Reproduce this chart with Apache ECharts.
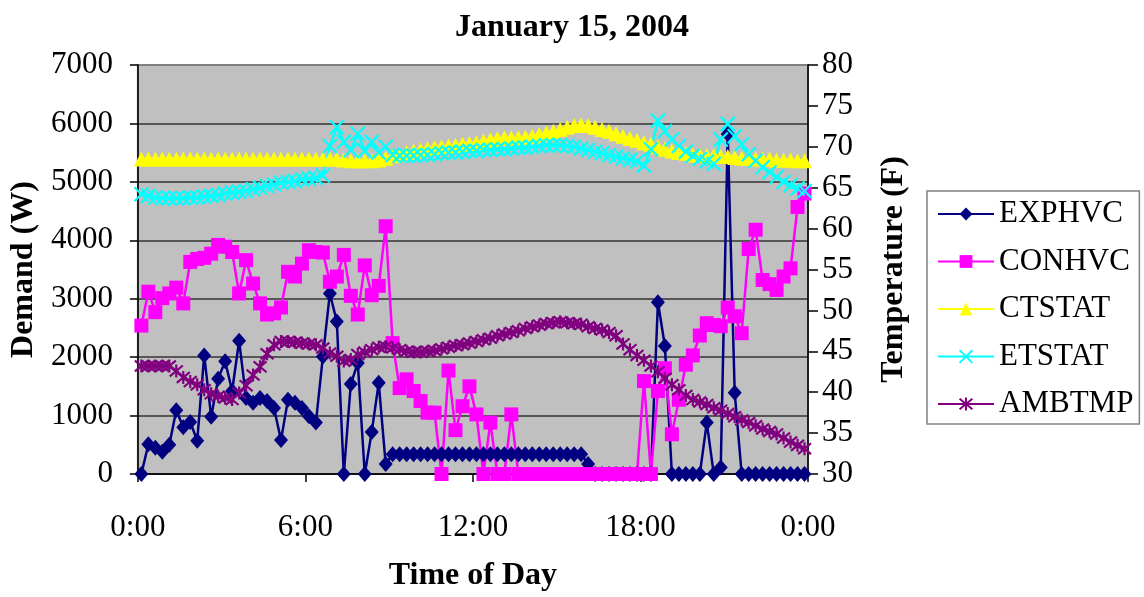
<!DOCTYPE html>
<html>
<head>
<meta charset="utf-8">
<title>January 15, 2004</title>
<script src="https://cdn.jsdelivr.net/npm/echarts@6/dist/echarts.min.js"></script>
<style>
    html, body { margin: 0; padding: 0; background: #fff; }
    #chart_show { width: 1144px; height: 597px; }
</style>
</head>
<body>
<div id="chart_show"></div>
<script>
// 15 minute readings, one category per reading
var timeLabels = [];
for (var h = 0; h < 24; h++) {
    for (var m = 0; m < 60; m += 15) {
        timeLabels.push(h + ':' + (m < 10 ? '0' + m : m));
    }
}

var hourTicks = [0, 6, 12, 18, 24];
var hourLabels = ['0:00', '6:00', '12:00', '18:00', '0:00'];

var seriesNames = ['EXPHVC', 'CONHVC', 'CTSTAT', 'ETSTAT', 'AMBTMP'];

// Demand (W)
var exphvc = [0, 510, 450, 380, 500, 1090, 800, 890, 570, 2030,
    980, 1630, 1930, 1420, 2280, 1300, 1220, 1300, 1250, 1130,
    580, 1270, 1220, 1130, 990, 880, 2010, 3090, 2610, 0,
    1540, 1900, 0, 720, 1560, 170, 340, 340, 340, 340,
    340, 340, 340, 340, 340, 340, 340, 340, 340, 340,
    340, 340, 340, 340, 340, 340, 340, 340, 340, 340,
    340, 340, 340, 340, 170, 0, 0, 0, 0, 0,
    0, 0, 0, 0, 2940, 2190, 0, 0, 0, 0,
    0, 880, 0, 110, 5820, 1390, 0, 0, 0, 0,
    0, 0, 0, 0, 0, 0];

var conhvc = [2540, 3120, 2770, 3010, 3090, 3190, 2920, 3630, 3680, 3700,
    3770, 3920, 3890, 3800, 3090, 3660, 3260, 2920, 2730, 2750,
    2850, 3460, 3380, 3600, 3830, 3800, 3790, 3290, 3380, 3750,
    3050, 2730, 3570, 3060, 3220, 4240, 2240, 1470, 1620, 1420,
    1250, 1050, 1050, 0, 1770, 750, 1160, 1500, 1020, 0,
    880, 0, 0, 1020, 0, 0, 0, 0, 0, 0,
    0, 0, 0, 0, 0, 0, 0, 0, 0, 0,
    0, 0, 1590, 0, 1420, 1810, 680, 1270, 1870, 2030,
    2370, 2580, 2550, 2530, 2850, 2700, 2410, 3850, 4180, 3320,
    3250, 3150, 3380, 3520, 4570, 4800];

// Temperature (F)
var ctstat = [68.5, 68.5, 68.5, 68.5, 68.5, 68.5, 68.5, 68.5, 68.5, 68.5,
    68.5, 68.5, 68.5, 68.5, 68.5, 68.5, 68.5, 68.5, 68.5, 68.5,
    68.5, 68.5, 68.5, 68.5, 68.5, 68.5, 68.5, 68.5, 68.5, 68.4,
    68.3, 68.3, 68.3, 68.3, 68.4, 68.6, 68.9, 69.1, 69.3, 69.5,
    69.6, 69.8, 69.9, 70.0, 70.1, 70.2, 70.3, 70.4, 70.5, 70.7,
    70.9, 71.0, 71.1, 71.1, 71.1, 71.2, 71.3, 71.5, 71.7, 71.9,
    72.1, 72.4, 72.6, 72.7, 72.6, 72.4, 72.1, 71.9, 71.6, 71.3,
    71.0, 70.8, 70.5, 70.3, 70.0, 69.7, 69.5, 69.3, 69.2, 69.0,
    69.0, 68.9, 68.9, 68.8, 68.8, 68.7, 68.6, 68.6, 68.5, 68.5,
    68.5, 68.4, 68.4, 68.4, 68.3, 68.3];

var etstat = [64.2, 64.0, 63.8, 63.7, 63.7, 63.7, 63.7, 63.8, 63.8, 63.9,
    64.0, 64.1, 64.3, 64.4, 64.5, 64.6, 64.8, 65.0, 65.2, 65.4,
    65.6, 65.7, 65.8, 66.0, 66.1, 66.2, 66.5, 70.1, 72.4, 70.6,
    69.6, 71.6, 69.5, 70.6, 69.3, 70.0, 69.0, 68.9, 68.9, 68.9,
    69.0, 69.0, 69.1, 69.2, 69.3, 69.3, 69.4, 69.5, 69.5, 69.6,
    69.6, 69.7, 69.7, 69.8, 69.9, 69.9, 70.0, 70.1, 70.2, 70.2,
    70.2, 70.1, 70.0, 69.8, 69.6, 69.4, 69.2, 69.0, 68.8, 68.6,
    68.4, 68.2, 67.7, 69.7, 73.2, 71.9, 70.9, 70.1, 69.4, 68.9,
    68.5, 68.2, 67.9, 70.9, 72.8, 71.3, 70.3, 69.1, 68.3, 67.5,
    66.9, 66.3, 65.7, 65.3, 64.9, 64.6];

var ambtmp = [43.2, 43.2, 43.2, 43.2, 43.2, 42.6, 41.8, 41.3, 40.9, 40.3,
    39.8, 39.5, 39.3, 39.1, 39.9, 40.8, 42.1, 43.1, 44.7, 45.8,
    46.2, 46.2, 46.1, 46.0, 45.9, 45.8, 45.4, 44.8, 44.4, 43.8,
    44.0, 44.6, 44.9, 45.2, 45.5, 45.6, 45.4, 45.2, 45.0, 44.9,
    44.9, 45.0, 45.1, 45.3, 45.5, 45.7, 45.8, 46.0, 46.2, 46.4,
    46.6, 46.9, 47.1, 47.3, 47.5, 47.8, 48.0, 48.2, 48.4, 48.5,
    48.6, 48.5, 48.4, 48.3, 48.0, 47.8, 47.6, 47.3, 46.9, 45.9,
    45.2, 44.5, 43.9, 43.2, 42.5, 41.7, 40.9, 40.3, 39.6, 39.1,
    38.8, 38.5, 38.1, 37.8, 37.4, 37.0, 36.6, 36.3, 35.9, 35.5,
    35.2, 34.9, 34.4, 33.9, 33.5, 33.1];

(function () {
    var FONT = "'Liberation Serif', 'Times New Roman', serif";

    var Demand_Chart = {
        opts: {
            id: 'chart_show',
            cross: 'path://M0,0L10,10M10,0L0,10',
            star: 'path://M0,0L10,10M10,0L0,10M5,-1L5,11'
        },
        init: function () {
            var myChart = echarts.init(document.getElementById(this.opts.id), null, { renderer: 'canvas' });
            myChart.setOption(this.formatChart());
        },
        lineSeries: function (name, data, yIndex, color, symbol, size, stroke) {
            var item = {
                name: name,
                type: 'line',
                xAxisIndex: 0,
                yAxisIndex: yIndex,
                data: data,
                symbol: symbol,
                symbolSize: size,
                showAllSymbol: true,
                lineStyle: { color: color, width: 2.5 },
                itemStyle: { color: color },
                emphasis: { disabled: true },
                animation: false
            };
            if (stroke) {
                item.itemStyle = { color: 'none', borderColor: color, borderWidth: 2.2 };
            }
            return item;
        },
        formatChart: function () {
            var content = this;
            var nameText = { fontFamily: FONT, fontSize: 32, fontWeight: 'bold', color: '#000' };
            var black = { color: '#000', width: 1.5 };
            var plain = function (v) { return String(v); };

            return {
                backgroundColor: '#fff',
                animation: false,
                title: {
                    text: 'January 15, 2004',
                    left: 'center',
                    top: 7,
                    textStyle: { fontFamily: FONT, fontSize: 32, fontWeight: 'bold', color: '#000' }
                },
                legend: {
                    orient: 'vertical',
                    left: 927,
                    top: 191,
                    padding: [7.5, 6, 4.5, 10],
                    itemGap: 16.5,
                    itemWidth: 56,
                    itemHeight: 16,
                    backgroundColor: '#fff',
                    borderColor: '#808080',
                    borderWidth: 1.5,
                    borderRadius: 0,
                    data: seriesNames,
                    textStyle: { fontFamily: FONT, fontSize: 31, lineHeight: 31, color: '#000' }
                },
                grid: {
                    left: 137,
                    right: 336,
                    top: 65,
                    bottom: 120.5,
                    show: true,
                    backgroundColor: '#c0c0c0',
                    borderColor: '#808080',
                    borderWidth: 2
                },
                xAxis: [
                    {
                        type: 'category',
                        data: timeLabels,
                        boundaryGap: true,
                        show: false
                    },
                    {
                        type: 'value',
                        position: 'bottom',
                        min: hourTicks[0],
                        max: hourTicks[hourTicks.length - 1],
                        interval: 6,
                        axisLine: { show: true, lineStyle: black },
                        axisTick: { show: true, length: 8, lineStyle: black },
                        splitLine: { show: false },
                        axisLabel: {
                            margin: 38,
                            showMinLabel: true,
                            showMaxLabel: true,
                            fontFamily: FONT, fontSize: 31, color: '#000',
                            formatter: function (v) {
                                return hourLabels[hourTicks.indexOf(v)];
                            }
                        },
                        name: 'Time of Day',
                        nameLocation: 'middle',
                        nameGap: 86,
                        nameTextStyle: nameText
                    }
                ],
                yAxis: [
                    {
                        type: 'value',
                        min: 0,
                        max: 7000,
                        interval: 1000,
                        axisLine: { show: true, lineStyle: black },
                        axisTick: { show: true, length: 8, lineStyle: black },
                        axisLabel: { margin: 25, fontFamily: FONT, fontSize: 31, color: '#000', formatter: plain },
                        splitLine: { show: true, showMaxLine: false, lineStyle: { color: '#333', width: 1.5 } },
                        name: 'Demand (W)',
                        nameLocation: 'middle',
                        nameRotate: 90,
                        nameGap: 96,
                        nameTextStyle: nameText
                    },
                    {
                        type: 'value',
                        position: 'right',
                        min: 30,
                        max: 80,
                        interval: 5,
                        axisLine: { show: true, lineStyle: black },
                        axisTick: { show: true, length: 10, lineStyle: black },
                        axisLabel: { margin: 14, fontFamily: FONT, fontSize: 31, color: '#000', formatter: plain },
                        splitLine: { show: false },
                        name: 'Temperature (F)',
                        nameLocation: 'middle',
                        nameRotate: 90,
                        nameGap: 70,
                        nameTextStyle: nameText
                    }
                ],
                series: [
                    content.lineSeries('EXPHVC', exphvc, 0, '#000080', 'diamond', [14, 16]),
                    content.lineSeries('CONHVC', conhvc, 0, '#ff00ff', 'rect', 14),
                    content.lineSeries('CTSTAT', ctstat, 1, '#ffff00', 'triangle', 15),
                    content.lineSeries('ETSTAT', etstat, 1, '#00ffff', content.opts.cross, 14, true),
                    content.lineSeries('AMBTMP', ambtmp, 1, '#800080', content.opts.star, 13, true)
                ]
            };
        }
    };

    Demand_Chart.init();
})();
</script>
</body>
</html>
